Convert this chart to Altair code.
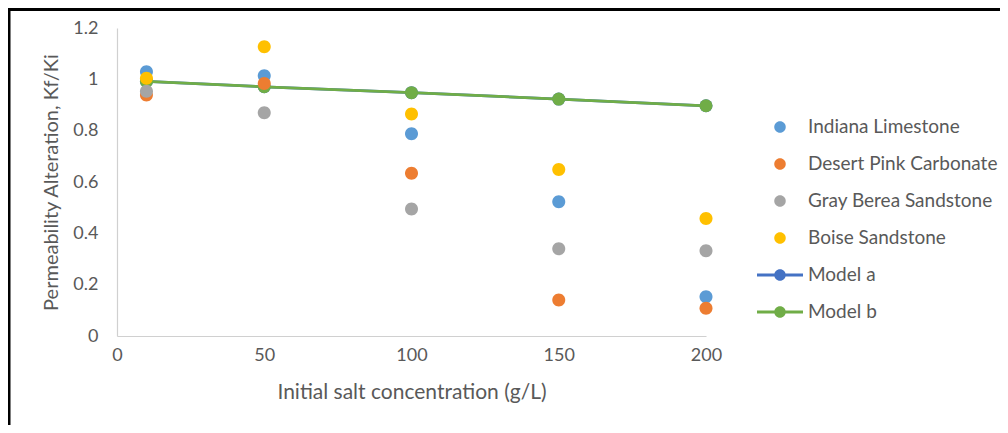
import altair as alt
import pandas as pd

conc = [10, 50, 100, 150, 200]
indiana = [1.03, 1.014, 0.788, 0.523, 0.153]
desert = [0.939, 0.984, 0.634, 0.140, 0.108]
gray = [0.954, 0.870, 0.495, 0.340, 0.332]
boise = [1.004, 1.127, 0.865, 0.649, 0.458]
model_a = [0.992, 0.971, 0.948, 0.923, 0.897]
model_b = [0.992, 0.971, 0.948, 0.923, 0.897]

series = ["Indiana Limestone", "Desert Pink Carbonate", "Gray Berea Sandstone",
          "Boise Sandstone", "Model a", "Model b"]
colors = ["#5B9BD5", "#ED7D31", "#A5A5A5", "#FFC000", "#4472C4", "#70AD47"]

circle_path = "M0.5,0A0.5,0.5 0 1,1 -0.5,0A0.5,0.5 0 1,1 0.5,0Z"
model_path = "M-2,-0.12H2V0.12H-2Z M0.5,0A0.5,0.5 0 1,1 -0.5,0A0.5,0.5 0 1,1 0.5,0Z"
shapes = [circle_path] * 4 + [model_path] * 2

rows = []
for name, vals in zip(series[:4], [indiana, desert, gray, boise]):
    for c, v in zip(conc, vals):
        rows.append({"conc": c, "value": v, "series": name})
pts = pd.DataFrame(rows)

mrows = []
for name, vals in zip(series[4:], [model_a, model_b]):
    for c, v in zip(conc, vals):
        mrows.append({"conc": c, "value": v, "series": name})
mdf = pd.DataFrame(mrows)

FONT = "Lato"
TXT = "#595959"

xs = alt.X("conc:Q", scale=alt.Scale(domain=[0, 200], nice=False),
           axis=alt.Axis(values=[0, 50, 100, 150, 200], title="Initial salt concentration (g/L)",
                         labelPadding=10, titlePadding=17, titleFontSize=21, labelFlush=False))
ys = alt.Y("value:Q", scale=alt.Scale(domain=[0, 1.2], nice=False),
           axis=alt.Axis(values=[0, 0.2, 0.4, 0.6, 0.8, 1.0, 1.2], format="~g",
                         title="Permeability Alteration, Kf/Ki", labelPadding=19, titlePadding=11,
                         titleFontSize=20, labelFlush=False))

layers = []
for name, col in zip(series[4:], colors[4:]):
    d = mdf[mdf.series == name]
    layers.append(alt.Chart(d).mark_line(color=col, strokeWidth=2.75).encode(x=xs, y=ys))
    layers.append(alt.Chart(d).mark_circle(color=col, size=169, opacity=1).encode(x=xs, y=ys))

scatter = alt.Chart(pts).mark_point(filled=True, opacity=1, size=676).encode(
    x=xs, y=ys,
    color=alt.Color("series:N", scale=alt.Scale(domain=series, range=colors),
                    legend=alt.Legend(title=None, orient="none", legendX=651.5, legendY=87.5,
                                      symbolSize=529, labelOffset=16.5, rowPadding=15,
                                      labelFontSize=19, labelColor=TXT, labelFont=FONT,
                                      labelLimit=400, symbolStrokeWidth=0, padding=0)),
    shape=alt.Shape("series:N", scale=alt.Scale(domain=series, range=shapes)),
    order=alt.Order("idx:Q"),
).transform_calculate(idx="indexof(['Indiana Limestone','Desert Pink Carbonate','Gray Berea Sandstone','Boise Sandstone'], datum.series)")

frame_left = alt.Chart(pd.DataFrame({"a": [0]})).mark_rule(color="black", strokeWidth=3).encode(
    x=alt.value(-108), y=alt.value(-20), y2=alt.value(397))
frame_top = alt.Chart(pd.DataFrame({"a": [0]})).mark_rule(color="black", strokeWidth=3).encode(
    y=alt.value(-18.5), x=alt.value(-109), x2=alt.value(883))

chart = alt.layer(*layers, scatter, frame_left, frame_top).properties(
    width=589, height=308,
    background="white",
    autosize=alt.AutoSizeParams(type="none"),
    padding={"left": 109, "top": 20, "right": 294, "bottom": 89},
).configure_view(stroke=None).configure_axis(
    grid=False, ticks=False, domainColor="#D0D0D0", domainWidth=1.2,
    labelFont=FONT, labelFontSize=18, labelColor=TXT,
    titleFont=FONT, titleFontSize=19, titleColor=TXT, titleFontWeight="normal",
)

chart.save("out.html", embed_options={"renderer": "svg", "actions": False})
